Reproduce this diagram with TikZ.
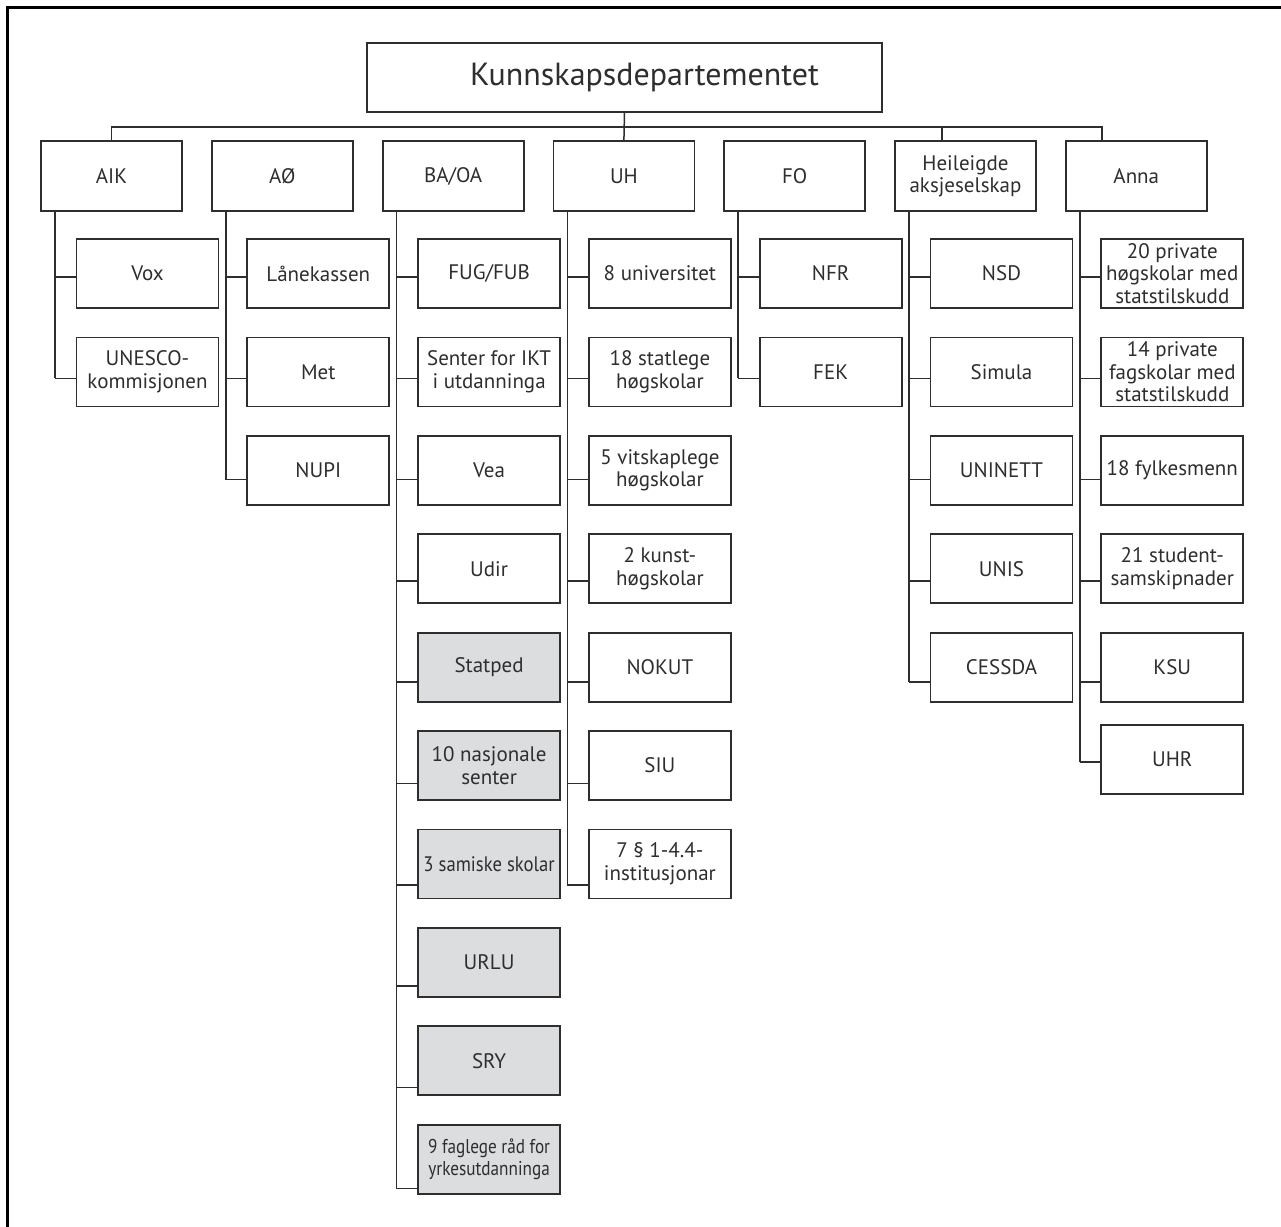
\documentclass[tikz,border=0pt]{standalone}
\usepackage{fontspec}
\setmainfont{PT Sans}
\newfontfamily\narrowfont[FakeStretch=0.86]{PT Sans}
\newfontfamily\semifont[FakeStretch=0.89]{PT Sans}
\usetikzlibrary{calc}
\definecolor{ink}{HTML}{2E2E2E}
\definecolor{shade}{RGB}{220,221,223}
\tikzset{
  box/.style={draw=ink, line width=0.9pt, fill=white, rectangle, anchor=north west,
    outer sep=0pt, inner sep=1pt, align=center, text=ink,
    font=\fontsize{10.5}{11.2}\selectfont},
  headbox/.style={box, minimum width=70.5pt, minimum height=35pt},
  kidbox/.style={box, minimum width=71pt, minimum height=34.5pt},
  greybox/.style={kidbox, fill=shade},
  narrowbox/.style={greybox, font=\narrowfont\fontsize{10}{11}\selectfont},
  semibox/.style={greybox, inner xsep=0pt, font=\semifont\fontsize{10.5}{11.2}\selectfont},
  conn/.style={draw=ink, line width=0.75pt},
  frame/.style={draw=black, line width=1.5pt},
}
\newcommand\kid[5]{%
  \pgfmathsetmacro\kx{76.5+170.8*#3}%
  \pgfmathsetmacro\ky{239+98.4*#4}%
  \pgfmathsetmacro\ks{38+2.9*#4}%
  \node[#1] (#2) at (\kx,\ky) {#5};%
  \coordinate (#2s) at ($(#2.north west)+(0,\ks)$);%
}
\begin{document}
\begin{tikzpicture}[x=0.5pt,y=-0.5pt]
\useasboundingbox (0,0) rectangle (1281,1227);
\draw[frame] (7,1227) -- (7,7) -- (1281,7);

% top
\node[box, minimum width=257.5pt, minimum height=34.5pt] (KD) at (367,43) {};
\node[font=\fontsize{16}{18}\selectfont, text=ink, inner sep=0pt] (KDt) at ($(KD.center)+(20,0)$) {Kunnskapsdepartementet};

% heads
\node[headbox] (AIK)  at (41,141)     {AIK};
\node[headbox] (AO)   at (211.8,141)  {AØ};
\node[headbox] (BA)   at (382.6,141)  {BA/OA};
\node[headbox] (UH)   at (553.4,141)  {UH};
\node[headbox] (FO)   at (724.2,141)  {FO};
\node[headbox] (HA)   at (895,141)    {Heileigde\\aksjeselskap};
\node[headbox] (ANNA) at (1065.8,141) {Anna};

% top connectors
\coordinate (barY) at (0,127);
\coordinate (HAtap) at ($(HA.north west)+(47,0)$);
\coordinate (ANNAtap) at ($(ANNA.north west)+(36,0)$);
\draw[conn] (AIK.north) -- (AIK.north |- barY) -- (ANNAtap |- barY) -- (ANNAtap);
\draw[conn] (HAtap |- barY) -- (HAtap);
\draw[conn] (KD.south) -- (UH.north);

% children
\kid{kidbox}{Vox}{0}{0}{Vox}
\kid{kidbox}{UNESCO}{0}{1}{UNESCO-\\kommisjonen}

\kid{kidbox}{Lane}{1}{0}{Lånekassen}
\kid{kidbox}{Met}{1}{1}{Met}
\kid{kidbox}{NUPI}{1}{2}{NUPI}

\kid{kidbox}{FUG}{2}{0}{FUG/FUB}
\kid{kidbox}{IKT}{2}{1}{Senter for IKT\\i utdanninga}
\kid{kidbox}{Vea}{2}{2}{Vea}
\kid{kidbox}{Udir}{2}{3}{Udir}
\kid{greybox}{Statped}{2}{4}{Statped}
\kid{greybox}{Nasj}{2}{5}{10 nasjonale\\senter}
\kid{semibox}{Samisk}{2}{6}{3 samiske skolar}
\kid{greybox}{URLU}{2}{7}{URLU}
\kid{greybox}{SRY}{2}{8}{SRY}
\kid{narrowbox}{Faglege}{2}{9}{9 faglege råd for\\yrkesutdanninga}

\kid{kidbox}{Univ}{3}{0}{8 universitet}
\kid{kidbox}{Statlege}{3}{1}{18 statlege\\høgskolar}
\kid{kidbox}{Vitskap}{3}{2}{5 vitskaplege\\høgskolar}
\kid{kidbox}{Kunst}{3}{3}{2 kunst-\\høgskolar}
\kid{kidbox}{NOKUT}{3}{4}{NOKUT}
\kid{kidbox}{SIU}{3}{5}{SIU}
\kid{kidbox}{Inst}{3}{6}{7 § 1-4.4-\\institusjonar}

\kid{kidbox}{NFR}{4}{0}{NFR}
\kid{kidbox}{FEK}{4}{1}{FEK}

\kid{kidbox}{NSD}{5}{0}{NSD}
\kid{kidbox}{Simula}{5}{1}{Simula}
\kid{kidbox}{UNINETT}{5}{2}{UNINETT}
\kid{kidbox}{UNIS}{5}{3}{UNIS}
\kid{kidbox}{CESSDA}{5}{4}{CESSDA}

\kid{kidbox}{Priv}{6}{0}{20 private\\høgskolar med\\statstilskudd}
\kid{kidbox}{Fag}{6}{1}{14 private\\fagskolar med\\statstilskudd}
\kid{kidbox}{Fylke}{6}{2}{18 fylkesmenn}
\kid{kidbox}{Student}{6}{3}{21 student-\\samskipnader}
\kid{kidbox}{KSU}{6}{4}{KSU}
\node[kidbox] (UHR) at (1101.3,725) {UHR};
\coordinate (UHRs) at ($(UHR.north west)+(0,37)$);

% column lines
\foreach \p/\last in {AIK/UNESCO, AO/NUPI, BA/Faglege, UH/Inst, FO/FEK, HA/CESSDA, ANNA/UHR}{
  \coordinate (\p v) at ($(\p.south west)+(14,0)$);
  \draw[conn] (\p v) -- (\p v |- \last s);
}
% stubs
\foreach \p/\k in {AIK/Vox, AIK/UNESCO,
  AO/Lane, AO/Met, AO/NUPI,
  BA/FUG, BA/IKT, BA/Vea, BA/Udir, BA/Statped, BA/Nasj, BA/Samisk, BA/URLU, BA/SRY, BA/Faglege,
  UH/Univ, UH/Statlege, UH/Vitskap, UH/Kunst, UH/NOKUT, UH/SIU, UH/Inst,
  FO/NFR, FO/FEK,
  HA/NSD, HA/Simula, HA/UNINETT, HA/UNIS, HA/CESSDA,
  ANNA/Priv, ANNA/Fag, ANNA/Fylke, ANNA/Student, ANNA/KSU, ANNA/UHR}{
  \draw[conn] (\k s) -- (\k s -| \p v);
}
\end{tikzpicture}
\end{document}
